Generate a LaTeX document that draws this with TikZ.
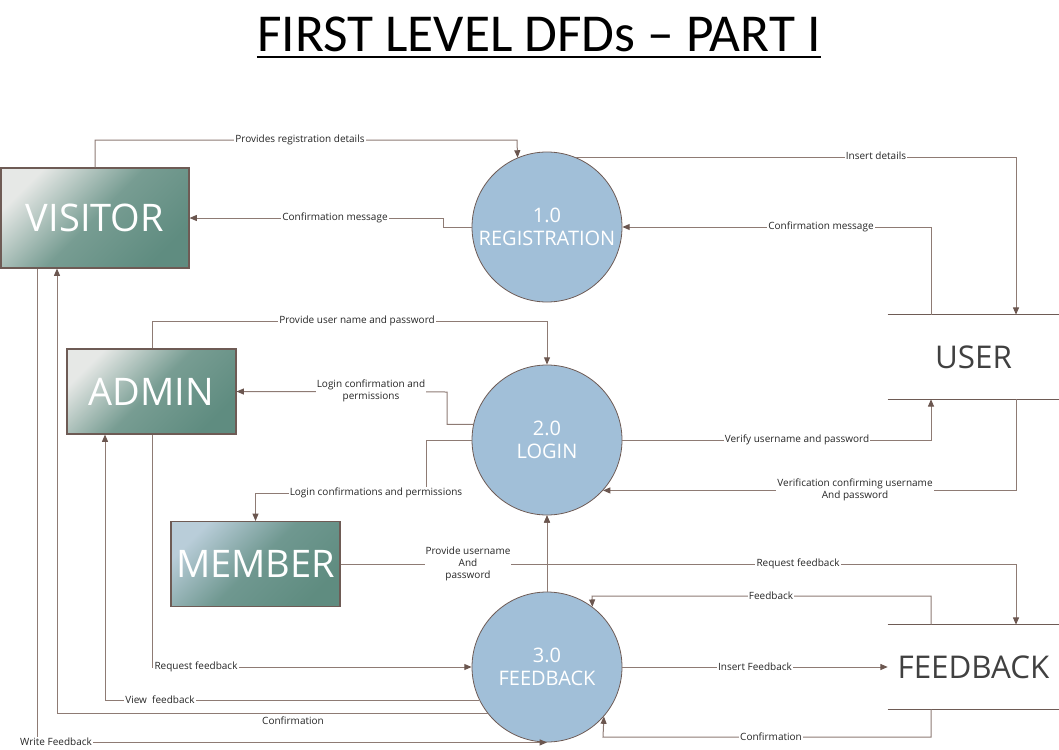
\documentclass[tikz,border=0pt]{standalone}
\usepackage{fontspec}
\setmainfont{Open Sans}
\newfontfamily\titlefont{Carlito}
\usetikzlibrary{arrows.meta}
\definecolor{teal1}{HTML}{5F8C80}
\definecolor{light1}{HTML}{E6E8E6}
\definecolor{lightblue1}{HTML}{B9CDD9}
\definecolor{procfill}{HTML}{A1BFD8}
\definecolor{edgec}{HTML}{6E5B55}
\definecolor{linec}{HTML}{8E7B74}
\definecolor{arrowc}{HTML}{6B564F}
\definecolor{storetext}{HTML}{404040}
\begin{document}
\begin{tikzpicture}[x=0.75pt,y=-0.75pt,
  entity/.style={draw=edgec, line width=0.8pt, top color=light1, bottom color=teal1, middle color=teal1!82!light1, shading angle=45, text=white, font=\fontsize{28.5}{30}\selectfont, inner sep=0pt},
  memberent/.style={entity, top color=lightblue1, bottom color=teal1, middle color=teal1!82!lightblue1, shading angle=45},
  process/.style={circle, draw=edgec, line width=0.6pt, fill=procfill, minimum size=112.5pt, inner sep=0pt, text=white, align=center, font=\fontsize{15}{17}\selectfont},
  store/.style={minimum width=128.25pt, minimum height=63pt, inner sep=0pt, text=storetext, font=\fontsize{23.5}{26}\selectfont},
  storeline/.style={draw=edgec, line width=0.8pt},
  flow/.style={draw=linec, line width=0.75pt, -{Triangle[length=5.5pt,width=4.5pt,color=arrowc]}},
  lbl/.style={fill=white, inner sep=0.8pt, font=\fontsize{7.5}{9}\selectfont, text=black!85, align=center},
]
\useasboundingbox (0,0) rectangle (1059,749);

% title
\node[font=\titlefont\fontsize{40}{42}\selectfont, inner sep=0pt, anchor=base] (title) at (539,52) {FIRST LEVEL DFDs – PART I};
\draw[line width=1.5pt] ([yshift=-3.8pt]title.base west) -- ([yshift=-3.8pt]title.base east);

% entities
\node[entity, minimum width=141pt, minimum height=75pt] (visitor) at (95,218) {VISITOR};
\node[entity, minimum width=126.75pt, minimum height=63.75pt] (admin) at (151.5,391.5) {ADMIN};
\node[memberent, minimum width=126.75pt, minimum height=63.75pt] (member) at (255.5,564) {MEMBER};

% processes
\node[process] (reg) at (547,227) {1.0\\REGISTRATION};
\node[process] (login) at (547,440) {2.0\\LOGIN};
\node[process] (fb) at (547,667) {3.0\\FEEDBACK};

% stores
\node[store] (user) at (973.5,357) {USER};
\draw[storeline] (user.north west) -- (user.north east) (user.south west) -- (user.south east);
\node[store] (fbstore) at (973.5,667) {FEEDBACK};
\draw[storeline] (fbstore.north west) -- (fbstore.north east) (fbstore.south west) -- (fbstore.south east);

% connectors
\draw[flow] (95,0 |- visitor.north) |- (517,140) -- (reg.113.6);
\draw[flow] (reg.west) -- (443,0 |- reg.west) |- (visitor.east);
\draw[flow] (reg.67) -| (1016,0 |- user.north);
\draw[flow] (931,0 |- user.north) |- (reg.east);
\draw[flow] (152,0 |- admin.north) -- (152,321) -| (login.north);
\draw[flow] (login.168.5) -| (447,392) -- (admin.east);
\draw[flow] (login.west) -| (426,493) -| (member.north);
\draw[flow] (login.east) -| (931,0 |- user.south);
\draw[flow] (1016,0 |- user.south) |- (login.-42.8);
\draw[flow] (member.east) -| (login.south);
\coordinate (junc) at (547,564);
\draw[flow] (fb.north) -- (login.south);
\draw[flow] (junc) -| (1016,0 |- fbstore.north);
\draw[flow] (931,0 |- fbstore.north) |- (592,596) -- (fb.53.1);
\draw[flow] (fb.east) -- (fbstore.west);
\draw[flow] (931,0 |- fbstore.south) |- (603,737) -- (fb.-41.8);
\draw[flow] (152,0 |- admin.south) |- (fb.west);
\draw[flow] (fb.206.1) -| (105,0 |- admin.south);
\draw[flow] (fb.218.8) -| (57,0 |- visitor.south);
\draw[flow] (37,0 |- visitor.south) |- (fb.south);

% labels
\node[lbl] at (300,140) {Provides registration details};
\node[lbl] at (335,218) {Confirmation message};
\node[lbl] at (876,156) {Insert details};
\node[lbl] at (821,227) {Confirmation message};
\node[lbl] at (357,321) {Provide user name and password};
\node[lbl] at (371,391) {Login confirmation and\\permissions};
\node[lbl] at (376,493) {Login confirmations and permissions};
\node[lbl] at (797,440) {Verify username and password};
\node[lbl] at (855,490) {Verification confirming username\\And password};
\node[lbl] at (468,564) {Provide username\\And\\password};
\node[lbl] at (798,564) {Request feedback};
\node[lbl] at (771,596) {Feedback};
\node[lbl] at (755,667) {Insert Feedback};
\node[lbl] at (771,737) {Confirmation};
\node[lbl] at (196,667) {Request feedback};
\node[lbl] at (160,700) {View\ \ feedback};
\node[lbl] at (293,721) {Confirmation};
\node[lbl] at (56,742) {Write Feedback};
\end{tikzpicture}
\end{document}
